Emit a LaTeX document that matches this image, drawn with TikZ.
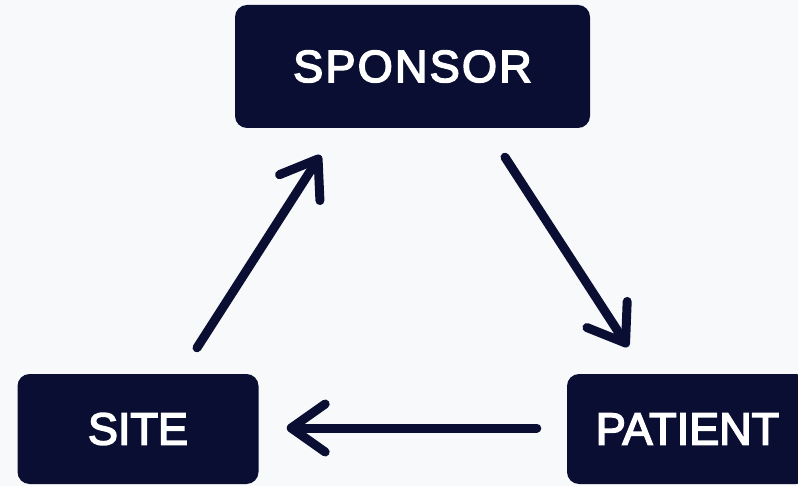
\documentclass[tikz,border=0pt]{standalone}
\usepackage{fontspec}
\setmainfont{Liberation Sans}
\newfontfamily\boxfont{Liberation Sans}[FakeBold=3.5]
\usetikzlibrary{arrows.meta}
\definecolor{navy}{RGB}{10,14,50}
\definecolor{bg}{RGB}{248,249,251}
\tikzset{
  box/.style={rectangle, rounded corners=12pt, fill=navy, draw=none, text=white,
    font=\boxfont\fontsize{45}{50}\selectfont, inner sep=0pt},
  arr/.style={draw=navy, line width=9pt, line cap=round, line join=round,
    -{Straight Barb[length=34pt,width=48pt,line cap=round,line join=round]}}
}
\begin{document}
\begin{tikzpicture}[x=1pt,y=-1pt]
\fill[bg] (0,0) rectangle (798,486);
\useasboundingbox (0,0) rectangle (798,486);
\clip (0,0) rectangle (798,486);
\node[box, minimum width=355pt, minimum height=123pt] (sponsor) at (412.5,66.5)
  {\addfontfeature{LetterSpace=5}SPONSOR};
\node[box, minimum width=241pt, minimum height=110pt] (site) at (138,429) {SITE};
\node[box, minimum width=241pt, minimum height=110pt] (patient) at (687.5,429) {PATIENT};
\draw[arr] ([shift={(59,-26)}]site.north) -- ([shift={(-92,27)}]sponsor.south);
\draw[arr] ([shift={(92.5,29)}]sponsor.south) -- ([shift={(-59.5,-27)}]patient.north);
\draw[arr] ([shift={(-30,-1)}]patient.west) -- ([shift={(28,-1)}]site.east);
\end{tikzpicture}
\end{document}
